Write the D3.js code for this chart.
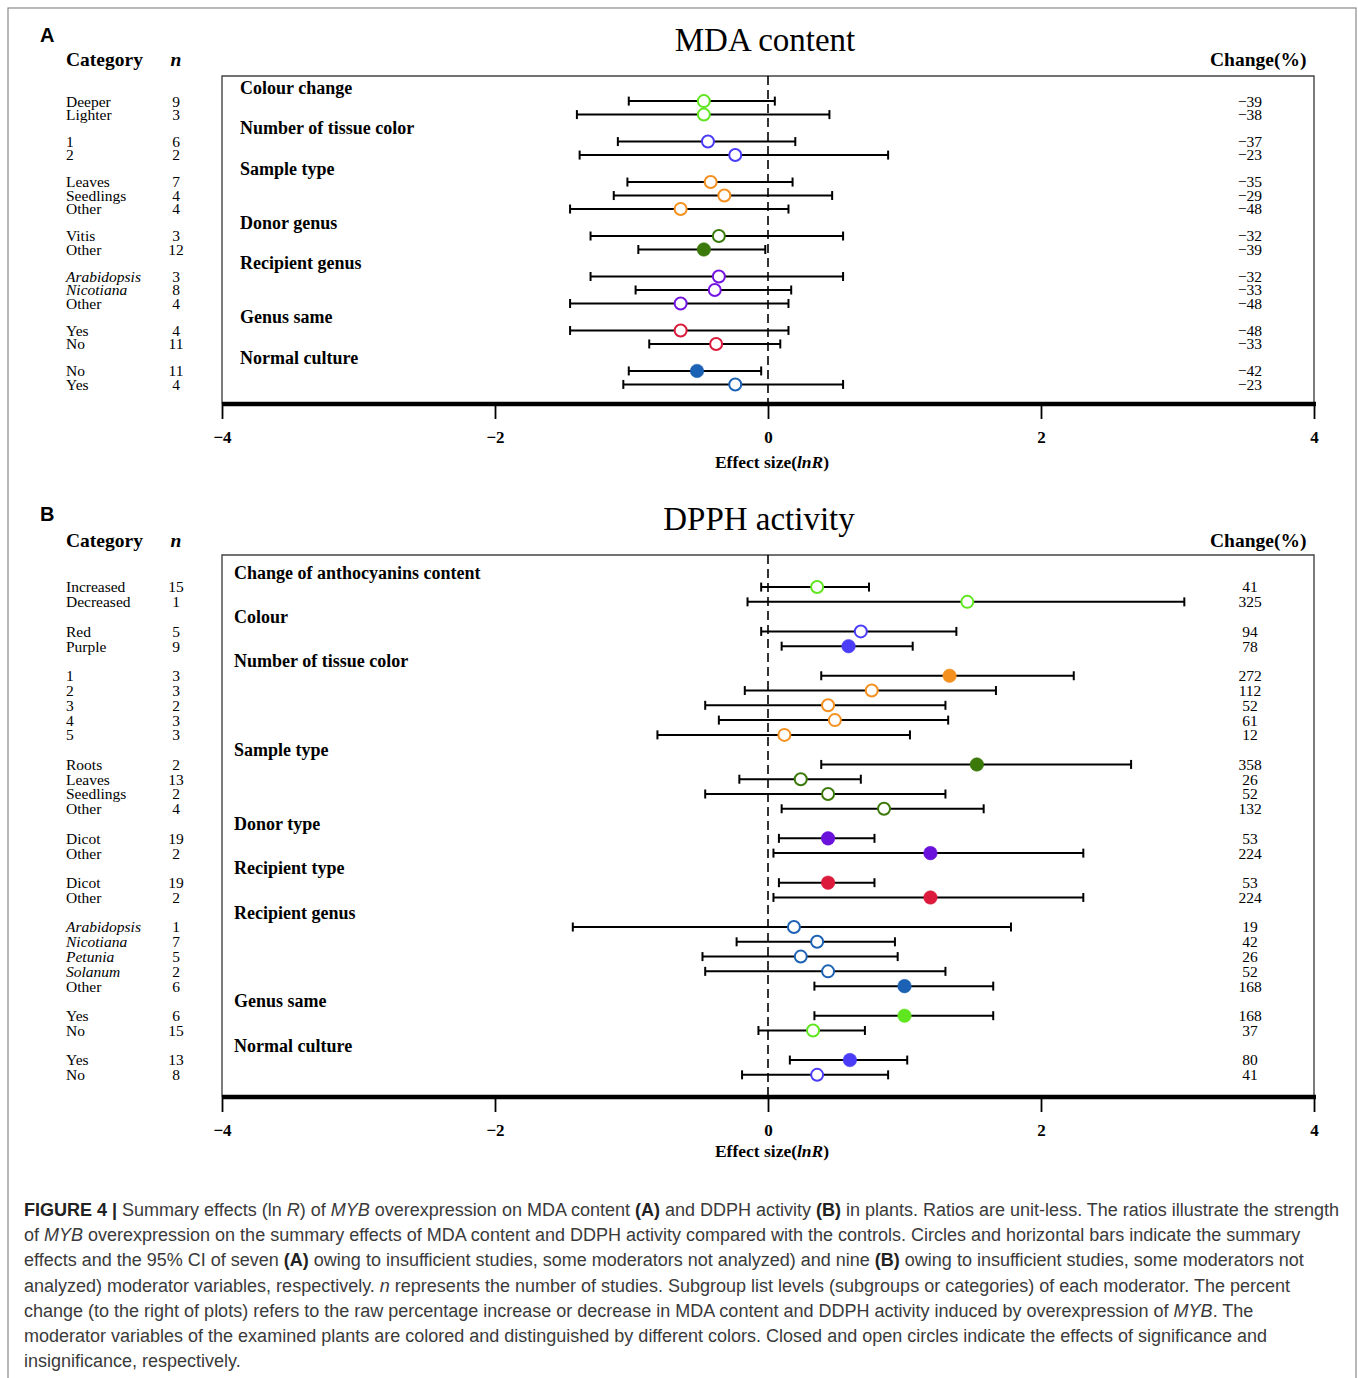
<!DOCTYPE html>
<html><head><meta charset="utf-8">
<script src="https://cdn.jsdelivr.net/npm/d3@7"></script>
<style>body{margin:0;background:#fff}</style>
</head><body>
<svg id="c" width="1358" height="1378"></svg>
<script>
// ---------- Panel A data (MDA content) ----------
const groupsA = ["Colour change","Number of tissue color","Sample type","Donor genus","Recipient genus","Genus same","Normal culture"];
const groupSizeA = [2,2,3,2,3,2,2];
const groupColorA = ["#5fe61e","#4a3cf7","#f39020","#3b7a0a","#7414e0","#dc1a3c","#1c62b4"];
const catsA = ["Deeper","Lighter","1","2","Leaves","Seedlings","Other","Vitis","Other","Arabidopsis","Nicotiana","Other","Yes","No","No","Yes"];
const italicA = [0,0,0,0,0,0,0,0,0,1,1,0,0,0,0,0];
const nA = [9,3,6,2,7,4,4,3,12,3,8,4,4,11,11,4];
const estA = [-0.47,-0.47,-0.44,-0.24,-0.42,-0.32,-0.64,-0.36,-0.47,-0.36,-0.39,-0.64,-0.64,-0.38,-0.52,-0.24];
const lowA = [-1.02,-1.40,-1.10,-1.38,-1.03,-1.13,-1.45,-1.30,-0.95,-1.30,-0.97,-1.45,-1.45,-0.87,-1.02,-1.06];
const highA = [0.05,0.45,0.20,0.88,0.18,0.47,0.15,0.55,-0.02,0.55,0.17,0.15,0.15,0.09,-0.05,0.55];
const sigA = [0,0,0,0,0,0,0,0,1,0,0,0,0,0,1,0];
const changeA = ["−39","−38","−37","−23","−35","−29","−48","−32","−39","−32","−33","−48","−48","−33","−42","−23"];

// ---------- Panel B data (DPPH activity) ----------
const groupsB = ["Change of anthocyanins content","Colour","Number of tissue color","Sample type","Donor type","Recipient type","Recipient genus","Genus same","Normal culture"];
const groupSizeB = [2,2,5,4,2,2,5,2,2];
const groupColorB = ["#5fe61e","#4a3cf7","#f39020","#3b7a0a","#6a12dc","#dc1a3c","#1c62b4","#5fe61e","#4a3cf7"];
const catsB = ["Increased","Decreased","Red","Purple","1","2","3","4","5","Roots","Leaves","Seedlings","Other","Dicot","Other","Dicot","Other","Arabidopsis","Nicotiana","Petunia","Solanum","Other","Yes","No","Yes","No"];
const italicB = [0,0,0,0,0,0,0,0,0,0,0,0,0,0,0,0,0,1,1,1,1,0,0,0,0,0];
const nB = [15,1,5,9,3,3,2,3,3,2,13,2,4,19,2,19,2,1,7,5,2,6,6,15,13,8];
const estB = [0.36,1.46,0.68,0.59,1.33,0.76,0.44,0.49,0.12,1.53,0.24,0.44,0.85,0.44,1.19,0.44,1.19,0.19,0.36,0.24,0.44,1.00,1.00,0.33,0.60,0.36];
const lowB = [-0.05,-0.15,-0.05,0.10,0.39,-0.17,-0.46,-0.36,-0.81,0.39,-0.21,-0.46,0.10,0.08,0.04,0.08,0.04,-1.43,-0.23,-0.48,-0.46,0.34,0.34,-0.07,0.16,-0.19];
const highB = [0.74,3.05,1.38,1.06,2.24,1.67,1.30,1.32,1.04,2.66,0.68,1.30,1.58,0.78,2.31,0.78,2.31,1.78,0.93,0.95,1.30,1.65,1.65,0.71,1.02,0.88];
const sigB = [0,0,0,1,1,0,0,0,0,1,0,0,0,1,1,1,1,0,0,0,0,1,1,0,1,0];
const changeB = ["41","325","94","78","272","112","52","61","12","358","26","52","132","53","224","53","224","19","42","26","52","168","168","37","80","41"];

const xTicks = [-4,-2,0,2,4];

const serif = "'Liberation Serif','Times New Roman',serif";
const sans = "'Liberation Sans',Arial,sans-serif";
const svg = d3.select("#c");

// figure border
svg.append("rect").attr("x",8).attr("y",8).attr("width",1348).attr("height",1400)
  .attr("fill","none").attr("stroke","#8a8a8a").attr("stroke-width",1.2);

function panel(o){
  const g = svg.append("g");
  const x = d3.scaleLinear().domain([-4,4]).range([222,1314]);
  const y = d3.scaleLinear().domain(o.rowDomain).range([o.top,o.axisY]);
  // row positions
  const rows = [], headerRows = [];
  let start = 0, k = 0;
  o.groups.forEach((gname,gi)=>{
    headerRows.push({name:gname,row:start-1});
    for(let j=0;j<o.sizes[gi];j++){ rows.push({i:k,row:start+j,gi}); k++; }
    start += o.sizes[gi]+1;
  });
  // letter + title
  g.append("text").attr("x",40).attr("y",o.letterY).text(o.letter)
    .attr("font-family",sans).attr("font-weight","bold").attr("font-size",20);
  g.append("text").attr("x",o.titleX).attr("y",o.titleY).attr("text-anchor","middle")
    .attr("font-family",serif).attr("font-size",33).text(o.title);
  // column headers
  g.append("text").attr("x",66).attr("y",o.headY).text("Category")
    .attr("font-family",serif).attr("font-weight","bold").attr("font-size",19.5);
  g.append("text").attr("x",176).attr("y",o.headY).attr("text-anchor","middle").text("n")
    .attr("font-family",serif).attr("font-weight","bold").attr("font-style","italic").attr("font-size",19.5);
  g.append("text").attr("x",1210).attr("y",o.headY).text("Change(%)")
    .attr("font-family",serif).attr("font-weight","bold").attr("font-size",19.5);
  // frame
  g.append("path").attr("d",`M${x(-4)},${o.axisY}V${o.top}H${x(4)}V${o.axisY}`)
    .attr("fill","none").attr("stroke","#444").attr("stroke-width",1.4);
  // zero dashed line
  g.append("line").attr("x1",x(0)).attr("x2",x(0)).attr("y1",o.top).attr("y2",o.axisY)
    .attr("stroke","#000").attr("stroke-width",1.6).attr("stroke-dasharray","9,5");
  // headers in plot
  g.selectAll(".hd").data(headerRows).join("text")
    .attr("x",o.headerX).attr("y",d=>y(d.row)).attr("dy","0.35em")
    .attr("font-family",serif).attr("font-weight","bold").attr("font-size",18).text(d=>d.name);
  // left labels
  g.selectAll(".cat").data(rows).join("text")
    .attr("x",66).attr("y",d=>y(d.row)).attr("dy","0.35em")
    .attr("font-family",serif).attr("font-size",15.5)
    .attr("font-style",d=>o.italic[d.i]?"italic":"normal").text(d=>o.cats[d.i]);
  g.selectAll(".nn").data(rows).join("text")
    .attr("x",176).attr("y",d=>y(d.row)).attr("dy","0.35em").attr("text-anchor","middle")
    .attr("font-family",serif).attr("font-size",15.5).text(d=>o.n[d.i]);
  g.selectAll(".ch").data(rows).join("text")
    .attr("x",1250).attr("y",d=>y(d.row)).attr("dy","0.35em").attr("text-anchor","middle")
    .attr("font-family",serif).attr("font-size",15.5).text(d=>o.change[d.i]);
  // error bars
  const eb = g.selectAll(".eb").data(rows).join("g").attr("stroke","#000").attr("stroke-width",2);
  eb.append("line").attr("x1",d=>x(o.low[d.i])).attr("x2",d=>x(o.high[d.i]))
    .attr("y1",d=>y(d.row)).attr("y2",d=>y(d.row));
  eb.append("line").attr("x1",d=>x(o.low[d.i])).attr("x2",d=>x(o.low[d.i]))
    .attr("y1",d=>y(d.row)-4.5).attr("y2",d=>y(d.row)+4.5);
  eb.append("line").attr("x1",d=>x(o.high[d.i])).attr("x2",d=>x(o.high[d.i]))
    .attr("y1",d=>y(d.row)-4.5).attr("y2",d=>y(d.row)+4.5);
  // points
  g.selectAll(".pt").data(rows).join("circle")
    .attr("cx",d=>x(o.est[d.i])).attr("cy",d=>y(d.row))
    .attr("r",d=>o.sig[d.i]?6.8:6)
    .attr("fill",d=>o.sig[d.i]?o.colors[d.gi]:"#fff")
    .attr("stroke",d=>o.colors[d.gi]).attr("stroke-width",d=>o.sig[d.i]?0.5:2);
  // axis
  const ax = g.append("g").attr("transform",`translate(0,${o.axisY})`)
    .call(d3.axisBottom(x).tickValues(xTicks).tickSize(15).tickPadding(12).tickSizeOuter(0)
      .tickFormat(d=>d<0?"−"+Math.abs(d):String(d)));
  ax.select(".domain").attr("stroke","#000").attr("stroke-width",4.5).attr("d",`M${x(-4)},0H${x(4)+2}`);
  ax.selectAll(".tick line").attr("stroke","#000").attr("stroke-width",1.8);
  ax.selectAll(".tick text").attr("font-family",serif).attr("font-weight","bold")
    .attr("font-size",17).attr("fill","#000");
  const t = g.append("text").attr("x",772).attr("y",o.axisTitleY).attr("text-anchor","middle")
    .attr("font-family",serif).attr("font-weight","bold").attr("font-size",17.5);
  t.append("tspan").text("Effect size(");
  t.append("tspan").attr("font-style","italic").text("lnR");
  t.append("tspan").text(")");
}

panel({letter:"A",letterY:42,title:"MDA content",titleX:765,titleY:51,headY:66,
  top:76,axisY:404,rowDomain:[-1.86,22.45],headerX:240,axisTitleY:468,
  groups:groupsA,sizes:groupSizeA,colors:groupColorA,cats:catsA,italic:italicA,n:nA,
  est:estA,low:lowA,high:highA,sig:sigA,change:changeA});
panel({letter:"B",letterY:521,title:"DPPH activity",titleX:759,titleY:530,headY:547,
  top:555,axisY:1097,rowDomain:[-2.17,34.5],headerX:234,axisTitleY:1157,
  groups:groupsB,sizes:groupSizeB,colors:groupColorB,cats:catsB,italic:italicB,n:nB,
  est:estB,low:lowB,high:highB,sig:sigB,change:changeB});

// ---------- caption ----------
const captionLines = [
 [["FIGURE 4 | ","b"],["Summary effects (ln ",""],["R","i"],[") of ",""],["MYB","i"],[" overexpression on MDA content ",""],["(A)","b"],[" and DDPH activity ",""],["(B)","b"],[" in plants. Ratios are unit-less. The ratios illustrate the strength",""]],
 [["of ",""],["MYB","i"],[" overexpression on the summary effects of MDA content and DDPH activity compared with the controls. Circles and horizontal bars indicate the summary",""]],
 [["effects and the 95% CI of seven ",""],["(A)","b"],[" owing to insufficient studies, some moderators not analyzed) and nine ",""],["(B)","b"],[" owing to insufficient studies, some moderators not",""]],
 [["analyzed) moderator variables, respectively. ",""],["n","i"],[" represents the number of studies. Subgroup list levels (subgroups or categories) of each moderator. The percent",""]],
 [["change (to the right of plots) refers to the raw percentage increase or decrease in MDA content and DDPH activity induced by overexpression of ",""],["MYB","i"],[". The",""]],
 [["moderator variables of the examined plants are colored and distinguished by different colors. Closed and open circles indicate the effects of significance and",""]],
 [["insignificance, respectively.",""]]
];
const cap = svg.append("g").attr("font-family",sans).attr("fill","#3a3a3a");
const capTexts = captionLines.map((segs,li)=>{
  const t = cap.append("text").attr("x",24).attr("y",1216+li*25.2).attr("font-size",17);
  segs.forEach(([s,st])=>{
    const sp = t.append("tspan").text(s);
    if(st==="b") sp.attr("font-weight","bold").attr("fill","#222");
    if(st==="i") sp.attr("font-style","italic");
  });
  return t;
});
const w0 = capTexts[0].node().getComputedTextLength();
const fs = 17*1315/w0;
capTexts.forEach(t=>t.attr("font-size",fs));
</script>
</body></html>
